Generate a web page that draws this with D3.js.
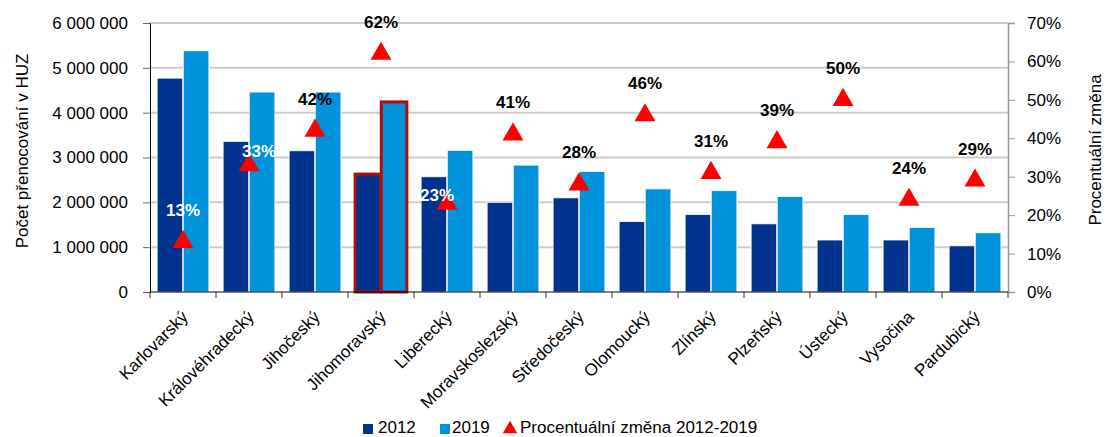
<!DOCTYPE html>
<html>
<head>
<meta charset="utf-8">
<script src="https://cdn.jsdelivr.net/npm/d3@7"></script>
<style>
  body { margin: 0; background: #fff; }
  svg { font-family: "Liberation Sans", Arial, sans-serif; }
</style>
</head>
<body>
<div id="chart"></div>
<script>
// data
const regions = ["Karlovarský", "Královéhradecký", "Jihočeský", "Jihomoravský", "Liberecký",
  "Moravskoslezský", "Středočeský", "Olomoucký", "Zlínský", "Plzeňský", "Ústecký", "Vysočina", "Pardubický"];
const nights2012 = [4770000, 3360000, 3150000, 2630000, 2570000, 2000000, 2100000, 1570000, 1730000, 1520000, 1160000, 1160000, 1030000];
const nights2019 = [5380000, 4460000, 4460000, 4240000, 3160000, 2830000, 2690000, 2300000, 2260000, 2130000, 1730000, 1440000, 1320000];
const change = [13, 33, 42, 62, 23, 41, 28, 46, 31, 39, 50, 24, 29];
const whiteLabels = ["Karlovarský", "Královéhradecký", "Liberecký"];
const highlighted = "Jihomoravský";
const leftTicks = [0, 1000000, 2000000, 3000000, 4000000, 5000000, 6000000];
const rightTicks = [0, 10, 20, 30, 40, 50, 60, 70];

const W = 1107, H = 437;
const margin = {top: 23, right: 99, bottom: 145, left: 150};
const width = W - margin.left - margin.right;
const height = H - margin.top - margin.bottom;

const dark = "#00338e", light = "#0092da";

// a few data labels were nudged by hand in the original
const labelNudge = {"Královéhradecký": [10, 18], "Liberecký": [-10, 23]};

const svg = d3.select("#chart").append("svg")
    .attr("width", W)
    .attr("height", H);

const g = svg.append("g")
    .attr("transform", `translate(${margin.left},${margin.top})`);

const x0 = d3.scaleBand()
    .domain(regions)
    .range([0, width])
    .paddingInner(0.2)
    .paddingOuter(0.1);

const x1 = d3.scaleBand()
    .domain(["2012", "2019"])
    .range([0, x0.bandwidth()])
    .padding(0.02);

const y = d3.scaleLinear().domain([0, 6000000]).range([height, 0]);
const y2 = d3.scaleLinear().domain([0, 70]).range([height, 0]);

const fmt = d => d3.format(",")(d).replace(/,/g, " ");

// gridlines
g.append("g")
  .selectAll("line")
  .data(leftTicks.filter(d => d > 0))
  .join("line")
    .attr("x1", 0)
    .attr("x2", width)
    .attr("y1", d => y(d))
    .attr("y2", d => y(d))
    .attr("stroke", "#cccccc")
    .attr("stroke-width", 2);

// bars
const rows = regions.map((r, i) => ({region: r, vals: [
  {key: "2012", v: nights2012[i]}, {key: "2019", v: nights2019[i]}]}));

const groups = g.selectAll(".grp")
  .data(rows)
  .join("g")
    .attr("transform", d => `translate(${x0(d.region)},0)`);

groups.selectAll("rect")
  .data(d => d.vals.map(v => ({...v, region: d.region})))
  .join("rect")
    .attr("x", d => x1(d.key))
    .attr("y", d => y(d.v))
    .attr("width", x1.bandwidth())
    .attr("height", d => height - y(d.v))
    .attr("fill", d => d.key === "2012" ? dark : light)
    .attr("stroke", d => d.region === highlighted ? "#b00d0d" : "#ffffff")
    .attr("stroke-width", d => d.region === highlighted ? 3 : 0.8);

// left axis
const yAxis = g.append("g")
    .call(d3.axisLeft(y).tickValues(leftTicks).tickFormat(fmt).tickSize(7).tickPadding(15));
yAxis.select(".domain").attr("stroke", "#000");
yAxis.selectAll(".tick line").attr("stroke", "#666");
yAxis.selectAll("text").attr("font-size", 17).attr("fill", "#000");

// right axis
const yAxis2 = g.append("g")
    .attr("transform", `translate(${width},0)`)
    .call(d3.axisRight(y2).tickValues(rightTicks).tickFormat(d => d + "%").tickSize(7).tickPadding(12));
yAxis2.select(".domain").attr("stroke", "#999").attr("stroke-width", 1.5);
yAxis2.selectAll(".tick line").attr("stroke", "#999");
yAxis2.selectAll("text").attr("font-size", 17).attr("fill", "#000");

// bottom axis
const xAxis = g.append("g")
    .attr("transform", `translate(0,${height})`);
xAxis.append("line")
    .attr("x1", 0).attr("x2", width)
    .attr("stroke", "#000");
xAxis.selectAll(".xt")
  .data(d3.range(regions.length + 1))
  .join("line")
    .attr("x1", i => i * x0.step())
    .attr("x2", i => i * x0.step())
    .attr("y1", 0).attr("y2", 6)
    .attr("stroke", "#333");
xAxis.selectAll(".xl")
  .data(regions)
  .join("text")
    .attr("transform", d => `translate(${x0(d) + x0.bandwidth() / 2 + 6},${26}) rotate(-45)`)
    .attr("text-anchor", "end")
    .attr("font-size", 17)
    .text(d => d);

// triangles
const tri = d3.symbol().type(d3.symbolTriangle).size(190);
g.selectAll(".tri")
  .data(change)
  .join("path")
    .attr("d", tri)
    .attr("transform", (d, i) => `translate(${x0(regions[i]) + x0.bandwidth() / 2},${y2(d)})`)
    .attr("fill", "#ff0000");

g.selectAll(".lbl")
  .data(change)
  .join("text")
    .attr("x", (d, i) => x0(regions[i]) + x0.bandwidth() / 2 + (labelNudge[regions[i]] || [0, 0])[0])
    .attr("y", (d, i) => y2(d) - 26 + (labelNudge[regions[i]] || [0, 0])[1])
    .attr("text-anchor", "middle")
    .attr("font-size", 17)
    .attr("font-weight", "bold")
    .attr("fill", (d, i) => whiteLabels.includes(regions[i]) ? "#ffffff" : "#000000")
    .text(d => d + "%");

// axis titles
svg.append("text")
    .attr("transform", `translate(28,${margin.top + 128}) rotate(-90)`)
    .attr("text-anchor", "middle")
    .attr("font-size", 17)
    .text("Počet přenocování v HUZ");

svg.append("text")
    .attr("transform", `translate(1101,${margin.top + 127}) rotate(-90)`)
    .attr("text-anchor", "middle")
    .attr("font-size", 17)
    .text("Procentuální změna");

// legend
const legend = svg.append("g").attr("transform", "translate(363,433)");
legend.append("rect").attr("x", 0).attr("y", -9).attr("width", 10).attr("height", 10).attr("fill", dark);
legend.append("text").attr("x", 15).attr("y", 0).attr("font-size", 17).text("2012");
legend.append("rect").attr("x", 77).attr("y", -9).attr("width", 10).attr("height", 10).attr("fill", light);
legend.append("text").attr("x", 89).attr("y", 0).attr("font-size", 17).text("2019");
legend.append("path").attr("d", d3.symbol().type(d3.symbolTriangle).size(90))
    .attr("transform", "translate(147,-4)").attr("fill", "#ff0000");
legend.append("text").attr("x", 157).attr("y", 0).attr("font-size", 17).text("Procentuální změna 2012-2019");
</script>
</body>
</html>
